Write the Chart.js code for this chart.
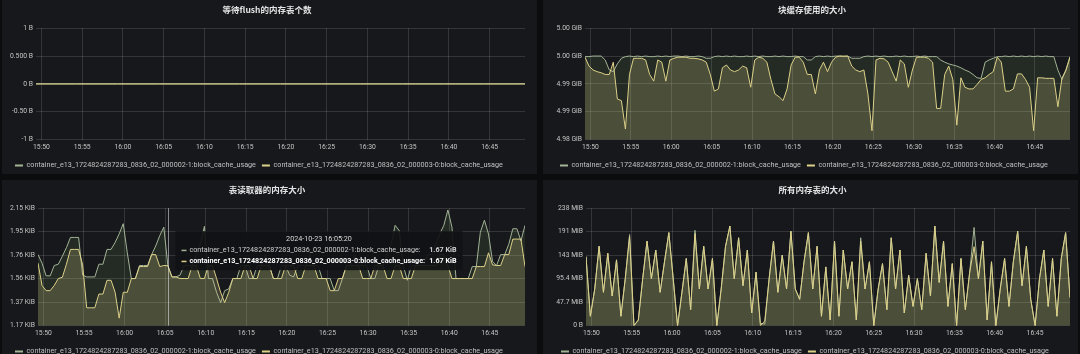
<!DOCTYPE html>
<html>
<head>
<meta charset="utf-8">
<script src="https://cdn.jsdelivr.net/npm/chart.js@4.4.1/dist/chart.umd.min.js"></script>
<style>
  html, body { margin: 0; padding: 0; background: #0b0c0e; }
  body { width: 1080px; height: 354px; position: relative; overflow: hidden; }
  .panel { position: absolute; background: #17181b; }
  .panel canvas { display: block; }
</style>
</head>
<body>
<div class="panel" style="left:2px;top:0;width:535px;height:174px"><canvas id="flushChart"></canvas></div>
<div class="panel" style="left:543px;top:0;width:535px;height:174px"><canvas id="cacheChart"></canvas></div>
<div class="panel" style="left:2px;top:180px;width:535px;height:180px"><canvas id="readerChart"></canvas></div>
<div class="panel" style="left:543px;top:180px;width:535px;height:180px"><canvas id="memChart"></canvas></div>
<script>
// series names (same two containers in every panel)
var seriesNames = [
  'container_e13_1724824287283_0836_02_000002-1:block_cache_usage',
  'container_e13_1724824287283_0836_02_000003-0:block_cache_usage'
];

// time window 15:49:20 - 16:49:20 (seconds of day)
var winStart = 15 * 3600 + 49 * 60 + 20;
var winEnd = winStart + 3600;
var timeTicks = ['15:50','15:55','16:00','16:05','16:10','16:15','16:20','16:25','16:30','16:35','16:40','16:45'];
var hoverDate = '2024-10-23';
var hoverIndex = 32;

// 等待flush的内存表个数
var flushTicks = [-1, -0.5, 0, 0.5, 1];
var flushTickText = ['-1 B', '-0.50 B', '0 B', '0.500 B', '1 B'];
var flush1 = [0,0,0,0,0,0,0,0,0,0,0,0,0];
var flush2 = [0,0,0,0,0,0,0,0,0,0,0,0,0];

// 块缓存使用的大小 (GiB)
var cacheTicks = [4.984, 4.989, 4.994, 4.999, 5.004];
var cacheTickText = ['4.98 GiB', '4.99 GiB', '4.99 GiB', '5.00 GiB', '5.00 GiB'];
var cache1 = [
  4.9989,4.9989,4.9990,4.9990,4.9990,4.9983,4.9965,4.9962,4.9976,4.9986,
  4.9989,4.9990,4.9989,4.9990,4.9989,4.9990,4.9989,4.9989,4.9990,4.9989,
  4.9990,4.9989,4.9990,4.9990,4.9989,4.9990,4.9989,4.9989,4.9990,4.9989,
  4.9986,4.9986,4.9989,4.9990,4.9989,4.9990,4.9989,4.9990,4.9989,4.9989,
  4.9990,4.9989,4.9990,4.9989,4.9990,4.9989,4.9989,4.9990,4.9989,4.9990,
  4.9989,4.9989,4.9990,4.9989,4.9989,4.9983,4.9983,4.9989,4.9990,4.9989,
  4.9990,4.9989,4.9990,4.9990,4.9989,4.9990,4.9986,4.9986,4.9986,4.9989,
  4.9990,4.9989,4.9990,4.9989,4.9990,4.9989,4.9989,4.9990,4.9989,4.9990,
  4.9989,4.9989,4.9990,4.9989,4.9990,4.9989,4.9989,4.9989,4.9983,4.9979,
  4.9976,4.9974,4.9972,4.9969,4.9965,4.9962,4.9957,4.9951,4.9950,4.9979,
  4.9983,4.9986,4.9989,4.9989,4.9990,4.9989,4.9990,4.9989,4.9990,4.9989,
  4.9990,4.9989,4.9990,4.9989,4.9990,4.9989,4.9989,4.9965,4.9948,4.9965,
  4.9989
];
var cache2 = [
  4.9988,4.9972,4.9965,4.9962,4.9960,4.9957,4.9957,4.9979,4.9913,4.9910,
  4.9859,4.9957,4.9986,4.9986,4.9986,4.9983,4.9957,4.9945,4.9983,4.9979,
  4.9945,4.9983,4.9986,4.9988,4.9988,4.9988,4.9986,4.9986,4.9985,4.9983,
  4.9979,4.9957,4.9927,4.9931,4.9969,4.9974,4.9965,4.9962,4.9965,4.9972,
  4.9969,4.9934,4.9983,4.9988,4.9986,4.9979,4.9948,4.9922,4.9917,4.9910,
  4.9931,4.9974,4.9988,4.9988,4.9979,4.9957,4.9957,4.9922,4.9965,4.9979,
  4.9962,4.9979,4.9988,4.9990,4.9990,4.9990,4.9972,4.9965,4.9962,4.9965,
  4.9922,4.9856,4.9983,4.9986,4.9985,4.9979,4.9962,4.9945,4.9983,4.9976,
  4.9934,4.9965,4.9988,4.9988,4.9988,4.9986,4.9979,4.9896,4.9896,4.9957,
  4.9972,4.9948,4.9866,4.9951,4.9934,4.9931,4.9931,4.9939,4.9948,4.9951,
  4.9957,4.9962,4.9988,4.9979,4.9927,4.9927,4.9931,4.9958,4.9958,4.9948,
  4.9934,4.9856,4.9951,4.9951,4.9950,4.9950,4.9950,4.9899,4.9950,4.9965,
  4.9988
];

// 表读取器的内存大小 (bytes)
var readerTicks = [1200, 1400, 1600, 1800, 2000, 2200];
var readerTickText = ['1.17 KiB', '1.37 KiB', '1.56 KiB', '1.76 KiB', '1.95 KiB', '2.15 KiB'];
var reader1 = [
  1805,1732,1624,1624,1712,1723,1791,1864,1951,1951,
  1951,1630,1615,1615,1615,1723,1723,1849,1849,1908,
  1981,2068,1820,1601,1601,1712,1712,1712,1805,1878,
  1966,2039,1710,1615,1615,1630,1712,1712,1712,1805,
  1893,2045,1601,1601,1484,1396,1498,1513,1601,1601,
  1712,1712,1601,1601,1712,1712,1805,1712,1601,1601,
  1712,1712,1630,1615,1712,1712,1712,1805,1712,1712,
  1601,1601,1601,1498,1498,1601,1712,1712,1805,1712,
  1712,1712,1601,1601,1712,1712,1805,1893,2054,2010,
  1712,1586,1712,1712,1712,1712,1805,1805,1893,1981,
  2054,2185,2039,1601,1601,1601,1601,1703,1703,1995,
  2098,1981,1747,1712,1805,1805,1893,2025,2025,1922,
  2054
];
var reader2 = [
  1732,1542,1498,1498,1542,1601,1612,1723,1849,1849,
  1849,1718,1352,1352,1352,1469,1469,1586,1586,1484,
  1264,1484,1484,1601,1601,1703,1703,1703,1805,1805,
  1703,1712,1710,1615,1615,1601,1601,1601,1712,1712,
  1601,1601,1712,1712,1601,1484,1396,1484,1601,1601,
  1601,1712,1712,1601,1601,1712,1712,1712,1601,1601,
  1601,1712,1712,1712,1601,1601,1712,1712,1712,1601,
  1601,1601,1498,1498,1601,1601,1712,1712,1712,1712,
  1601,1601,1601,1712,1712,1712,1601,1601,1712,1712,
  1601,1601,1601,1712,1712,1712,1712,1712,1712,1805,
  1805,1712,1601,1601,1601,1601,1601,1601,1703,1703,
  1703,1820,1718,1712,1712,1805,1805,1937,1937,1937,
  1703
];

// 所有内存表的大小 (MB, 10^6 bytes)
var memTicks = [0, 50, 100, 150, 200, 250];
var memTickText = ['0 B', '47.7 MiB', '95.4 MiB', '143 MiB', '191 MiB', '238 MiB'];
var mem1 = [
  147,20,78,169,71,154,63,140,20,100,
  194,0,12,100,180,100,161,71,136,198,
  100,0,71,143,34,203,78,169,78,143,
  0,78,169,212,100,187,85,161,27,114,
  5,3,100,180,71,150,78,201,78,56,
  136,198,78,169,20,125,12,180,20,161,
  78,136,12,187,78,136,0,78,132,34,
  187,78,161,27,107,41,100,34,154,63,
  212,92,180,41,132,0,143,34,114,209,
  100,180,12,136,0,78,143,41,136,201,
  85,169,56,0,100,161,41,143,20,143,
  198,60
];
var mem2 = [
  147,20,78,169,71,154,63,140,20,100,
  190,0,12,100,180,100,161,71,136,198,
  100,0,71,143,34,196,78,169,78,143,
  0,78,169,212,100,187,85,161,27,114,
  0,10,100,180,71,150,78,201,78,56,
  136,198,78,169,20,125,12,180,20,161,
  78,136,12,180,78,136,0,78,132,34,
  187,78,161,27,107,41,100,34,154,63,
  212,92,180,41,132,0,143,34,114,168,
  100,180,12,136,0,78,143,41,136,201,
  85,169,56,0,100,161,41,143,20,143,
  198,60
];

var lineColors = ['#a3b396', '#ddd189'];
var fillColors = ['rgba(126,178,109,0.12)', 'rgba(221,209,137,0.22)'];
var gridColor = 'rgba(255,255,255,0.13)';
var tickColor = '#c4c4c4';
var tickFont = 6.8;
var legendFont = 7.2;

Chart.defaults.font.family = 'Roboto, "Noto Sans CJK SC", sans-serif';
Chart.defaults.color = tickColor;

function clockToSec(s) {
  var p = s.split(':');
  return (+p[0]) * 3600 + (+p[1]) * 60 + (p[2] ? +p[2] : 0);
}
function secToClock(t) {
  var h = Math.floor(t / 3600), m = Math.floor((t % 3600) / 60), s = Math.round(t % 60);
  function two(n) { return (n < 10 ? '0' : '') + n; }
  return two(h) + ':' + two(m) + ':' + two(s);
}
function windowTimes(n) {
  var out = [];
  for (var i = 0; i < n; i++) out.push(winStart + i * (winEnd - winStart) / (n - 1));
  return out;
}
function toPoints(vals) {
  var t = windowTimes(vals.length);
  return vals.map(function (v, i) { return { x: t[i], y: v }; });
}

// shrink the legend box a bit (Chart.js adds a fixed 10px)
function legendShrink(px) {
  return {
    id: 'legendShrink',
    beforeInit: function (chart) {
      var fit = chart.legend.fit;
      chart.legend.fit = function () { fit.call(this); this.height -= px; };
    }
  };
}

// Grafana-like hover tooltip for the reader panel
var hoverPlugin = {
  id: 'hoverBox',
  afterDraw: function (chart) {
    var ctx = chart.ctx, area = chart.chartArea;
    var times = windowTimes(reader1.length);
    var px = Math.round(chart.scales.x.getPixelForValue(times[hoverIndex])) + 0.5;
    ctx.save();
    ctx.strokeStyle = 'rgba(235,235,235,0.55)';
    ctx.lineWidth = 1;
    ctx.beginPath();
    ctx.moveTo(px, area.top);
    ctx.lineTo(px, area.bottom);
    ctx.stroke();

    var bx = px + 7, by = area.top + 23, bw = 287, bh = 39;
    ctx.fillStyle = 'rgba(17,18,20,0.93)';
    ctx.fillRect(bx, by, bw, bh);
    ctx.textBaseline = 'middle';
    ctx.fillStyle = '#d8d9da';
    ctx.textAlign = 'center';
    ctx.font = legendFont + 'px Roboto';
    ctx.fillText(hoverDate + ' ' + secToClock(times[hoverIndex]), bx + bw / 2, by + 8);

    var rows = [reader1, reader2];
    for (var r = 0; r < 2; r++) {
      var ry = by + 19 + r * 11;
      ctx.fillStyle = lineColors[r];
      ctx.fillRect(bx + 6, ry - 0.5, 5, 1.5);
      ctx.font = (r === 1 ? 'bold ' : '') + legendFont + 'px Roboto';
      ctx.fillStyle = r === 1 ? '#ffffff' : '#cfd0d1';
      ctx.textAlign = 'left';
      ctx.fillText(seriesNames[r] + ':', bx + 14, ry);
      ctx.textAlign = 'right';
      ctx.font = 'bold ' + legendFont + 'px Roboto';
      ctx.fillText((rows[r][hoverIndex] / 1024).toFixed(2) + ' KiB', bx + bw - 6, ry);
    }
    ctx.restore();
  }
};

function makeChart(id, title, s1, s2, yTicks, yText, padLeft, padRight, yWidth, legendCut, extra) {
  var tickVals = timeTicks.map(clockToSec);
  var plugins = [legendShrink(legendCut)];
  if (extra) plugins.push(extra);
  return new Chart(document.getElementById(id), {
    type: 'line',
    data: {
      datasets: [
        { label: seriesNames[0], data: toPoints(s1), borderColor: lineColors[0], backgroundColor: fillColors[0], order: 1 },
        { label: seriesNames[1], data: toPoints(s2), borderColor: lineColors[1], backgroundColor: fillColors[1], order: 0 }
      ]
    },
    options: {
      responsive: true,
      maintainAspectRatio: false,
      animation: false,
      events: [],
      layout: { padding: { left: padLeft, right: padRight, top: 0, bottom: 0 } },
      elements: {
        point: { radius: 0 },
        line: { borderWidth: 1, tension: 0, fill: 'origin' }
      },
      scales: {
        x: {
          type: 'linear',
          min: winStart,
          max: winEnd,
          afterBuildTicks: function (s) { s.ticks = tickVals.map(function (v) { return { value: v }; }); },
          ticks: {
            autoSkip: false, maxRotation: 0, padding: 4, color: tickColor, font: { size: tickFont },
            callback: function (v, i) { return timeTicks[i]; }
          },
          grid: { color: gridColor, drawTicks: false },
          border: { display: false }
        },
        y: {
          min: yTicks[0],
          max: yTicks[yTicks.length - 1],
          afterBuildTicks: function (s) { s.ticks = yTicks.map(function (v) { return { value: v }; }); },
          afterFit: function (s) { s.width = yWidth; },
          ticks: {
            padding: 3, color: tickColor, font: { size: tickFont },
            callback: function (v, i) { return yText[i]; }
          },
          grid: { color: gridColor, drawTicks: false },
          border: { display: false }
        }
      },
      plugins: {
        title: {
          display: true, text: title, color: '#e2e3e4',
          font: { size: 8.5, weight: 'bold', family: '"Noto Sans CJK SC", Roboto, sans-serif' },
          padding: { top: 5, bottom: 13 }
        },
        legend: {
          position: 'bottom', align: 'start',
          labels: {
            color: '#bfc0c1', font: { size: legendFont }, boxWidth: 8, boxHeight: 2, padding: 6,
            generateLabels: function (chart) {
              return chart.data.datasets.map(function (ds, i) {
                return { text: ds.label, fillStyle: ds.borderColor, strokeStyle: ds.borderColor, lineWidth: 0, fontColor: '#bfc0c1', datasetIndex: i, hidden: false };
              });
            }
          }
        },
        tooltip: { enabled: false }
      }
    },
    plugins: plugins
  });
}

makeChart('flushChart', '等待flush的内存表个数', flush1, flush2, flushTicks, flushTickText, 7, 12, 27, 5);
makeChart('cacheChart', '块缓存使用的大小', cache1, cache2, cacheTicks, cacheTickText, 11, 8, 31, 5);
makeChart('readerChart', '表读取器的内存大小', reader1, reader2, readerTicks, readerTickText, 7, 12, 29, 5, hoverPlugin);
makeChart('memChart', '所有内存表的大小', mem1, mem2, memTicks, memTickText, 12, 8, 31, 5);
</script>
</body>
</html>
